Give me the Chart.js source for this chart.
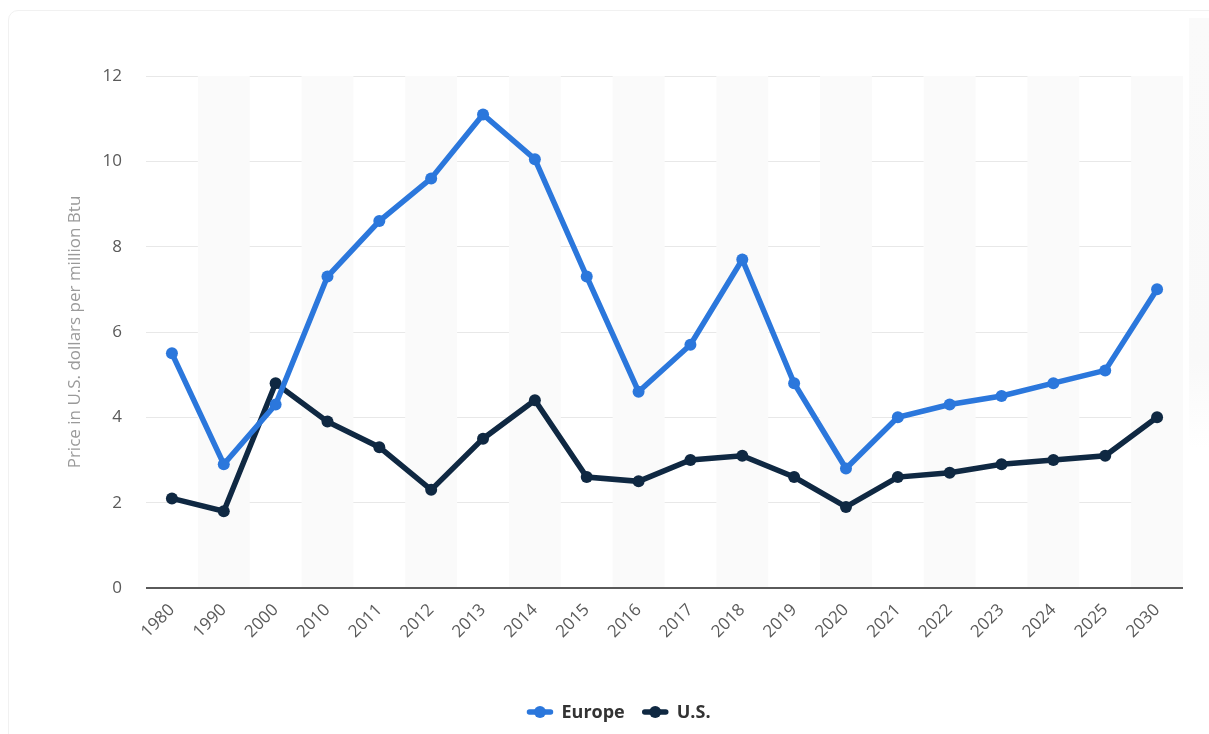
<!DOCTYPE html>
<html>
<head>
<meta charset="utf-8">
<title>Natural gas prices: Europe vs U.S.</title>
<script src="https://cdn.jsdelivr.net/npm/chart.js@4.4.1/dist/chart.umd.min.js"></script>
<style>
  html, body { margin: 0; padding: 0; background: #ffffff; }
  #wrap { position: relative; width: 1209px; height: 734px; overflow: hidden; }
  #card {
    position: absolute; left: 8px; top: 10px; width: 1240px; height: 760px;
    border: 1px solid #f1f1f1; border-radius: 10px; box-sizing: border-box;
  }
  #side {
    position: absolute; left: 1189px; top: 18px; width: 30px; height: 430px;
    background: linear-gradient(to bottom, #fafafa 0%, #f9f9f9 80%, #ffffff 100%);
  }
  canvas { position: absolute; left: 0; top: 0; }
</style>
</head>
<body>
<div id="wrap">
  <div id="card"></div>
  <div id="side"></div>
  <canvas id="chart" width="1209" height="734"></canvas>
</div>
<script>
// Years shown on the category axis
const years = ['1980', '1990', '2000', '2010', '2011', '2012', '2013', '2014', '2015', '2016',
               '2017', '2018', '2019', '2020', '2021', '2022', '2023', '2024', '2025', '2030'];

// Natural gas price, U.S. dollars per million Btu
const europePrices = [5.5, 2.9, 4.3, 7.3, 8.6, 9.6, 11.1, 10.05, 7.3, 4.6,
                      5.7, 7.7, 4.8, 2.8, 4.0, 4.3, 4.5, 4.8, 5.1, 7.0];
const usPrices     = [2.1, 1.8, 4.8, 3.9, 3.3, 2.3, 3.5, 4.4, 2.6, 2.5,
                      3.0, 3.1, 2.6, 1.9, 2.6, 2.7, 2.9, 3.0, 3.1, 4.0];

// Value axis tick values
const yTicks = [0, 2, 4, 6, 8, 10, 12];

const seriesNames = ['Europe', 'U.S.'];
const seriesColors = ['#2b77dc', '#0f2842'];
const axisTitle = 'Price in U.S. dollars per million Btu';

const FONT = '"Open Sans", "Noto Sans", sans-serif';

// Alternating shaded column bands behind the lines
const bandPlugin = {
  id: 'bands',
  beforeDatasetsDraw(chart) {
    const { ctx, chartArea, scales } = chart;
    const x = scales.x;
    const step = x.getPixelForValue(1) - x.getPixelForValue(0);
    ctx.save();
    ctx.fillStyle = '#fafafa';
    for (let i = 1; i < years.length; i += 2) {
      const c = x.getPixelForValue(i);
      ctx.fillRect(c - step / 2, chartArea.top, step, chartArea.bottom - chartArea.top - 1);
    }
    ctx.restore();
  }
};

// Centered bottom legend: line segment with a dot, then bold label
const legendPlugin = {
  id: 'lineDotLegend',
  afterDraw(chart) {
    const { ctx } = chart;
    const y = 712;
    const iconW = 27, gapIcon = 8, gapItem = 17;
    ctx.save();
    ctx.font = 'bold 18px ' + FONT;
    ctx.textBaseline = 'middle';
    const items = chart.data.datasets.map(ds => ({
      label: ds.label, color: ds.borderColor, w: ctx.measureText(ds.label).width
    }));
    let total = 0;
    items.forEach((it, i) => { total += iconW + gapIcon + it.w + (i ? gapItem : 0); });
    let x = chart.width / 2 - total / 2 + 14;
    items.forEach((it, i) => {
      if (i) x += gapItem;
      ctx.strokeStyle = it.color;
      ctx.fillStyle = it.color;
      ctx.lineWidth = 5.5;
      ctx.lineCap = 'round';
      ctx.beginPath();
      ctx.moveTo(x + 3, y);
      ctx.lineTo(x + iconW - 3, y);
      ctx.stroke();
      ctx.beginPath();
      ctx.arc(x + iconW / 2, y, 6, 0, Math.PI * 2);
      ctx.fill();
      x += iconW + gapIcon;
      ctx.fillStyle = '#333333';
      ctx.fillText(it.label, x, y + 1);
      x += it.w;
    });
    ctx.restore();
  }
};

const ctx = document.getElementById('chart').getContext('2d');
new Chart(ctx, {
  type: 'line',
  data: {
    labels: years,
    datasets: [
      {
        label: seriesNames[0],
        data: europePrices,
        borderColor: seriesColors[0],
        backgroundColor: seriesColors[0],
        borderWidth: 5.5,
        pointRadius: 6,
        pointHoverRadius: 6,
        pointBorderWidth: 0,
        tension: 0
      },
      {
        label: seriesNames[1],
        data: usPrices,
        borderColor: seriesColors[1],
        backgroundColor: seriesColors[1],
        borderWidth: 5.5,
        pointRadius: 6,
        pointHoverRadius: 6,
        pointBorderWidth: 0,
        tension: 0
      }
    ]
  },
  options: {
    responsive: false,
    animation: false,
    devicePixelRatio: 1,
    layout: { padding: { top: 76, right: 26, bottom: 0, left: 0 } },
    plugins: {
      legend: { display: false },
      tooltip: { enabled: false }
    },
    scales: {
      x: {
        offset: true,
        grid: { display: false, drawTicks: false },
        border: { display: false },
        ticks: {
          color: '#5a5a5a',
          font: { family: FONT, size: 17 },
          maxRotation: 45,
          minRotation: 45,
          autoSkip: false,
          padding: 12
        },
        afterFit(scale) { scale.height = 146; }
      },
      y: {
        min: 0,
        max: 12,
        afterBuildTicks(scale) { scale.ticks = yTicks.map(v => ({ value: v })); },
        grid: {
          drawTicks: false,
          color: c => (c.tick && c.tick.value === 0 ? '#5a5a5a' : '#e8e8e8'),
          lineWidth: c => (c.tick && c.tick.value === 0 ? 2 : 1)
        },
        border: { display: false },
        ticks: {
          color: '#5a5a5a',
          font: { family: FONT, size: 17 },
          padding: 24
        },
        title: {
          display: true,
          text: axisTitle,
          color: '#9a9a9a',
          font: { family: FONT, size: 17 },
          padding: { top: 65, bottom: 0 }
        },
        afterFit(scale) { scale.width = 146; }
      }
    }
  },
  plugins: [bandPlugin, legendPlugin]
});
</script>
</body>
</html>
